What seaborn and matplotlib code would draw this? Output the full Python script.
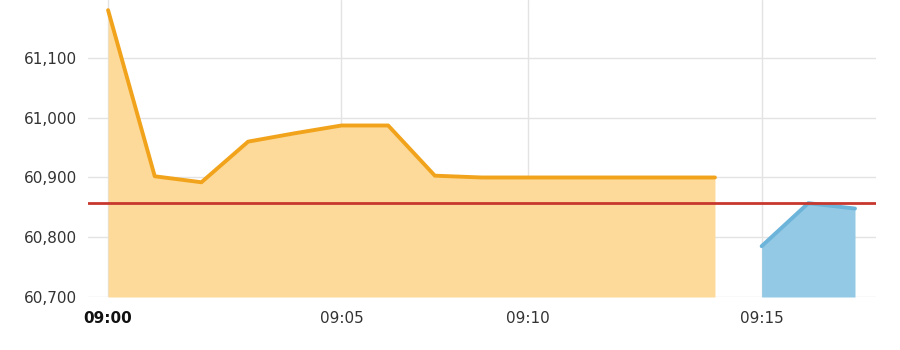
import matplotlib
matplotlib.use("Agg")
import matplotlib.pyplot as plt
import seaborn as sns
import pandas as pd

# Data (minute slots, index-based axis)
am_idx = [0, 1, 2, 3, 4, 5, 6, 7, 8, 9, 10, 11, 12, 13]
am_values = [61180, 60902, 60892, 60960, 60974, 60987, 60987, 60903, 60900, 60900, 60900, 60900, 60900, 60900]
pm_idx = [14, 15, 16]
pm_values = [60785, 60857, 60848]
ref_value = 60858
tick_pos = [0, 5, 9, 14]
tick_labels = ["09:00", "09:05", "09:10", "09:15"]
y_ticks = [60700, 60800, 60900, 61000, 61100]

sns.set_theme(style="white")
plt.rcParams['font.family'] = ['DejaVu Sans']

fig = plt.figure(figsize=(9, 3.5), dpi=100)
ax = fig.add_axes([88/900, 53/350, (876-88)/900, 297/350])

df_am = pd.DataFrame({"x": am_idx, "y": am_values})
df_pm = pd.DataFrame({"x": pm_idx, "y": pm_values})

base = 60700
ax.fill_between(df_am["x"], df_am["y"], base, color="#FDDA9A", lw=0, zorder=2)
ax.fill_between(df_pm["x"], df_pm["y"], base, color="#93C9E4", lw=0, zorder=2)
sns.lineplot(data=df_am, x="x", y="y", ax=ax, color="#F2A31C", lw=2.8, zorder=3)
sns.lineplot(data=df_pm, x="x", y="y", ax=ax, color="#6DB4DA", lw=2.8, zorder=3)
ax.axhline(ref_value, color="#C8372D", lw=2, zorder=4)

ax.set_xlim(-0.43, 16.45)
ax.set_ylim(60700, 61197)
ax.set_yticks(y_ticks)
ax.set_yticklabels([f"{v:,}" for v in y_ticks])
ax.set_xticks(tick_pos)
ax.set_xticklabels(tick_labels)
for i, t in enumerate(ax.get_xticklabels()):
    if i == 0:
        t.set_fontweight("bold")
        t.set_color("#111111")
    else:
        t.set_color("#333333")
for t in ax.get_yticklabels():
    t.set_color("#333333")
ax.tick_params(axis="both", labelsize=11, length=0)
ax.tick_params(axis="x", pad=10)
ax.tick_params(axis="y", pad=8)

ax.grid(True, color="#E3E3E3", lw=1, zorder=0)
ax.set_axisbelow(True)
for s in ax.spines.values():
    s.set_visible(False)
ax.set_xlabel("")
ax.set_ylabel("")

fig.savefig("out.png", dpi=100)
